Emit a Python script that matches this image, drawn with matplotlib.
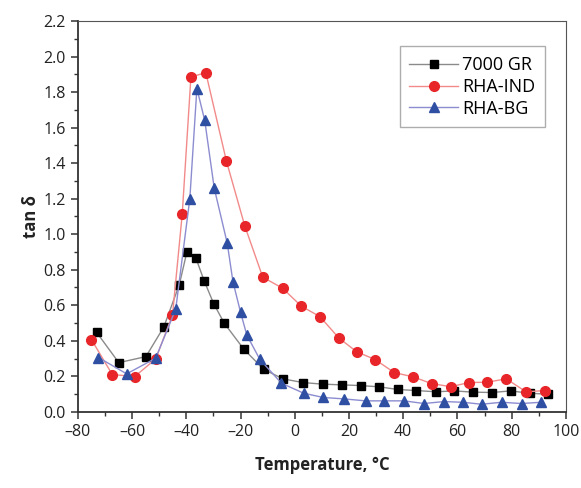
import matplotlib
matplotlib.use("Agg")
import matplotlib.pyplot as plt
from matplotlib.ticker import MultipleLocator, FuncFormatter

plt.rcParams['font.family'] = ['Open Sans', 'DejaVu Sans']

# tan delta vs temperature
gr_temp = [-73.1, -64.9, -54.9, -48.3, -42.6, -39.8, -36.5, -33.4, -29.9, -26.0,
           -18.8, -11.5, -4.4, 3.0, 10.3, 17.4, 24.3, 31.1, 38.0, 44.9, 52.1,
           58.8, 65.8, 72.8, 79.6, 86.6, 93.5]
gr_tan = [0.448, 0.277, 0.311, 0.478, 0.715, 0.899, 0.867, 0.737, 0.609, 0.499,
          0.353, 0.240, 0.186, 0.165, 0.156, 0.152, 0.148, 0.141, 0.126, 0.120,
          0.113, 0.118, 0.111, 0.109, 0.118, 0.105, 0.099]

ind_temp = [-75.0, -67.3, -59.0, -51.3, -45.1, -41.5, -38.3, -32.8, -25.2, -18.4,
            -11.8, -4.5, 2.4, 9.3, 16.3, 22.9, 29.7, 36.7, 43.7, 50.5, 57.5,
            64.3, 71.0, 78.0, 85.3, 92.2]
ind_tan = [0.407, 0.210, 0.199, 0.298, 0.544, 1.114, 1.885, 1.909, 1.411, 1.045,
           0.758, 0.696, 0.595, 0.536, 0.415, 0.338, 0.294, 0.221, 0.197, 0.159,
           0.142, 0.165, 0.167, 0.186, 0.113, 0.120]

bg_temp = [-72.4, -62.0, -51.3, -43.9, -38.7, -36.1, -33.2, -29.7, -24.9, -22.8,
           -20.0, -17.7, -12.9, -4.9, 3.3, 10.5, 18.2, 26.1, 33.0, 40.3, 47.7,
           55.0, 62.0, 68.9, 76.3, 83.7, 90.7]
bg_tan = [0.306, 0.214, 0.302, 0.578, 1.200, 1.820, 1.640, 1.259, 0.949, 0.733,
          0.561, 0.433, 0.296, 0.161, 0.105, 0.081, 0.073, 0.062, 0.062, 0.062,
          0.047, 0.058, 0.054, 0.043, 0.054, 0.047, 0.054]

fig = plt.figure(figsize=(5.81, 4.88), dpi=100)
ax = fig.add_axes([0.134, 0.156, 0.840, 0.801])

ax.plot(gr_temp, gr_tan, color='#8a8a8a', lw=1.0, marker='s', ms=6.3,
        mfc='black', mec='black', label='7000 GR')
ax.plot(ind_temp, ind_tan, color='#f28a8a', lw=1.0, marker='o', ms=7.0,
        mfc='#e8262a', mec='#e8262a', label='RHA-IND')
ax.plot(bg_temp, bg_tan, color='#8c8cd0', lw=1.0, marker='^', ms=7.3,
        mfc='#2f4fa3', mec='#2f4fa3', label='RHA-BG')

ax.set_xlim(-80, 100)
ax.set_ylim(0, 2.2)
ax.xaxis.set_major_locator(MultipleLocator(20))
ax.xaxis.set_minor_locator(MultipleLocator(10))
ax.yaxis.set_major_locator(MultipleLocator(0.2))
ax.yaxis.set_minor_locator(MultipleLocator(0.1))
ax.xaxis.set_major_formatter(FuncFormatter(lambda v, p: f"{v:.0f}".replace('-', '\u2013')))
ax.yaxis.set_major_formatter(FuncFormatter(lambda v, p: f"{v:.1f}"))

for side in ('left', 'bottom'):
    ax.spines[side].set_linewidth(1.3)
    ax.spines[side].set_color('#333333')
for side in ('top', 'right'):
    ax.spines[side].set_linewidth(0.8)
    ax.spines[side].set_color('#555555')

ax.tick_params(which='major', direction='out', length=5, width=1.1,
               labelsize=11.5, colors='#333333', labelcolor='#222222')
ax.tick_params(which='minor', direction='out', length=3, width=1.0, colors='#333333')
ax.tick_params(top=False, right=False)

ax.set_xlabel('Temperature, \u00b0C', fontsize=12, fontweight='bold', labelpad=12, color='#222222')
ax.set_ylabel('tan \u03b4', fontsize=12, fontweight='bold', labelpad=3, color='#222222')

leg = ax.legend(loc='upper right', bbox_to_anchor=(0.957, 0.935), fontsize=13,
                frameon=True, fancybox=False, edgecolor='#999999',
                handlelength=2.7, handletextpad=0.2, borderpad=0.55,
                labelspacing=0.2, borderaxespad=0)
leg.get_frame().set_linewidth(1.0)

fig.savefig('out.png', dpi=100)
